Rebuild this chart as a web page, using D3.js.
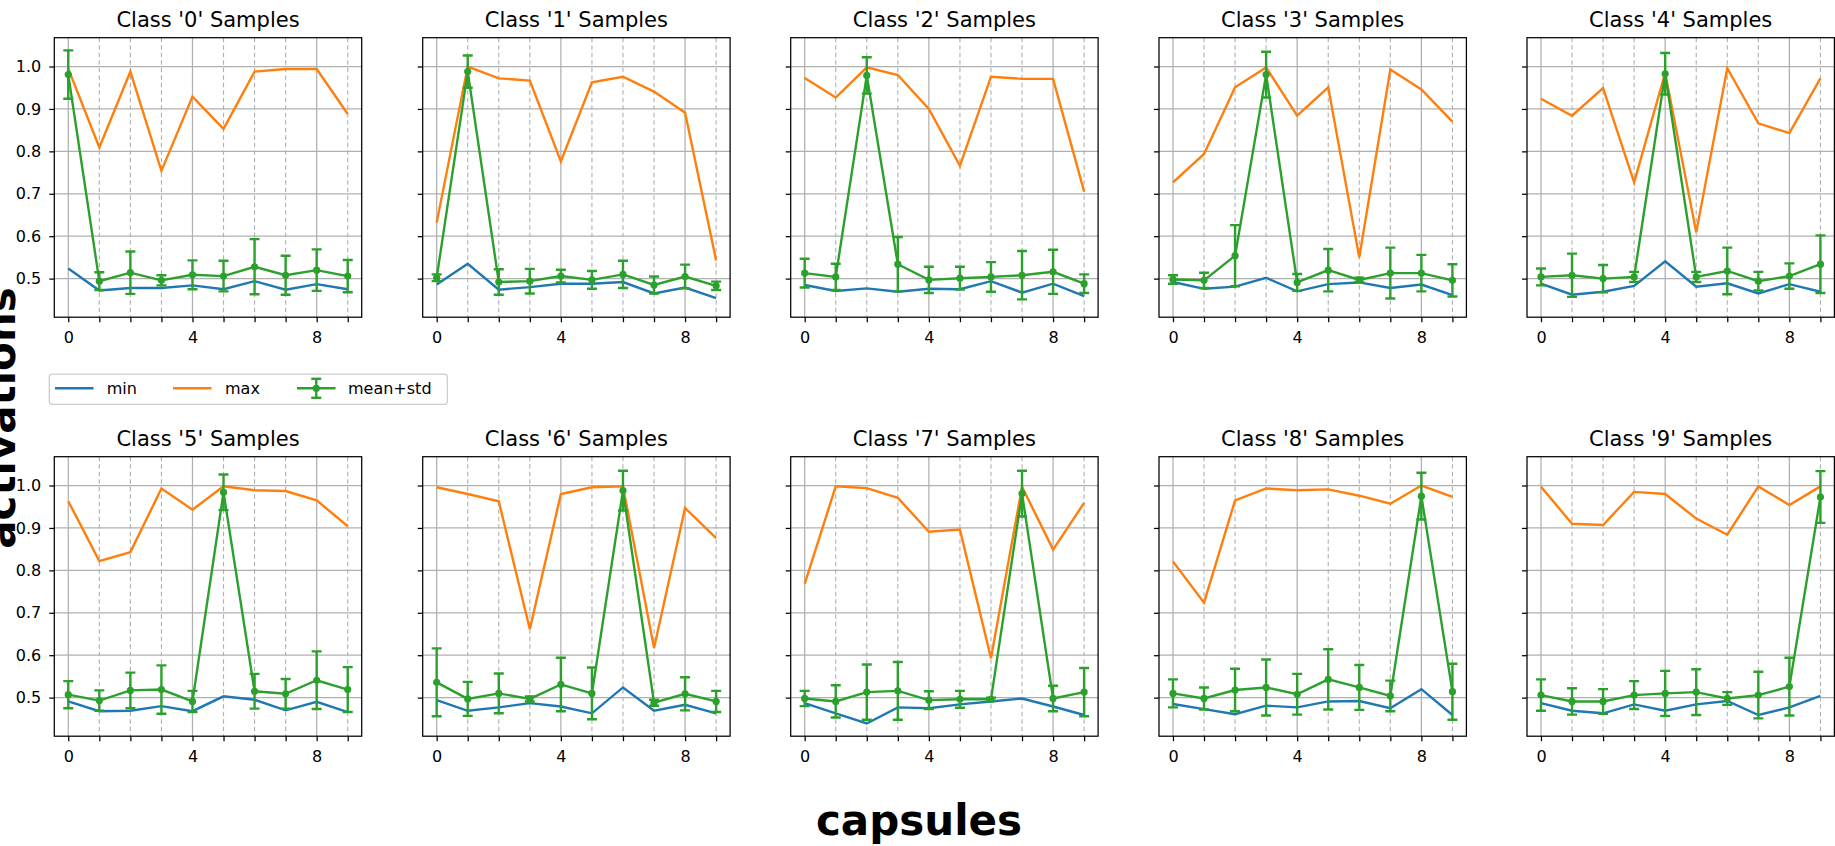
<!DOCTYPE html>
<html>
<head>
<meta charset="utf-8">
<script src="https://cdn.jsdelivr.net/npm/d3@7"></script>
<style>
  html, body { margin: 0; padding: 0; background: #ffffff; }
  svg { display: block; font-family: "DejaVu Sans", sans-serif; }
</style>
</head>
<body>
<svg id="chart" width="1835" height="846"></svg>
<script>
// ---------------- DATA ----------------
const classLabels = ["0", "1", "2", "3", "4", "5", "6", "7", "8", "9"];
const capsules = [0, 1, 2, 3, 4, 5, 6, 7, 8, 9];
const xTickLabels = [0, 4, 8];
const yTickValues = [0.5, 0.6, 0.7, 0.8, 0.9, 1.0];
const seriesNames = ["min", "max", "mean+std"];

const minValues = [
  [0.524, 0.472, 0.478, 0.478, 0.484, 0.475, 0.494, 0.474, 0.487, 0.475],
  [0.486, 0.535, 0.474, 0.480, 0.488, 0.488, 0.492, 0.465, 0.479, 0.454],
  [0.485, 0.471, 0.477, 0.469, 0.476, 0.475, 0.494, 0.467, 0.488, 0.459],
  [0.492, 0.476, 0.481, 0.502, 0.470, 0.487, 0.491, 0.478, 0.486, 0.461],
  [0.488, 0.462, 0.469, 0.483, 0.541, 0.481, 0.489, 0.465, 0.487, 0.469],
  [0.491, 0.468, 0.469, 0.480, 0.468, 0.503, 0.495, 0.470, 0.490, 0.466],
  [0.494, 0.469, 0.477, 0.487, 0.479, 0.463, 0.524, 0.469, 0.483, 0.463],
  [0.487, 0.463, 0.439, 0.477, 0.475, 0.484, 0.491, 0.498, 0.479, 0.459],
  [0.485, 0.473, 0.461, 0.481, 0.477, 0.491, 0.492, 0.475, 0.520, 0.459],
  [0.487, 0.469, 0.463, 0.484, 0.469, 0.484, 0.492, 0.459, 0.477, 0.504]
];

const maxValues = [
  [0.995, 0.809, 0.988, 0.754, 0.929, 0.853, 0.988, 0.994, 0.994, 0.888],
  [0.632, 1.000, 0.972, 0.967, 0.776, 0.963, 0.976, 0.941, 0.891, 0.543],
  [0.973, 0.927, 0.998, 0.980, 0.900, 0.766, 0.976, 0.971, 0.971, 0.705],
  [0.727, 0.794, 0.951, 0.998, 0.884, 0.951, 0.550, 0.993, 0.946, 0.870],
  [0.924, 0.884, 0.949, 0.727, 0.985, 0.609, 0.996, 0.866, 0.843, 0.972],
  [0.963, 0.822, 0.843, 0.993, 0.943, 0.998, 0.989, 0.987, 0.965, 0.904],
  [0.996, 0.980, 0.963, 0.661, 0.980, 0.996, 0.998, 0.617, 0.947, 0.876],
  [0.768, 0.998, 0.994, 0.971, 0.891, 0.896, 0.593, 0.997, 0.849, 0.959],
  [0.821, 0.724, 0.965, 0.993, 0.989, 0.991, 0.976, 0.957, 1.000, 0.973],
  [0.997, 0.910, 0.907, 0.985, 0.980, 0.922, 0.884, 0.998, 0.954, 0.998]
];

const meanValues = [
  [0.981, 0.494, 0.514, 0.496, 0.509, 0.506, 0.528, 0.508, 0.520, 0.506],
  [0.502, 0.988, 0.492, 0.494, 0.506, 0.497, 0.510, 0.485, 0.505, 0.483],
  [0.513, 0.504, 0.979, 0.534, 0.497, 0.501, 0.504, 0.508, 0.516, 0.488],
  [0.498, 0.496, 0.554, 0.981, 0.491, 0.520, 0.497, 0.513, 0.513, 0.496],
  [0.504, 0.508, 0.500, 0.504, 0.983, 0.504, 0.518, 0.494, 0.506, 0.534],
  [0.507, 0.493, 0.517, 0.519, 0.491, 0.984, 0.515, 0.509, 0.541, 0.519],
  [0.536, 0.497, 0.510, 0.497, 0.531, 0.510, 0.988, 0.488, 0.509, 0.491],
  [0.498, 0.491, 0.513, 0.516, 0.494, 0.496, 0.496, 0.981, 0.498, 0.513],
  [0.510, 0.498, 0.518, 0.524, 0.508, 0.543, 0.524, 0.504, 0.975, 0.514],
  [0.506, 0.491, 0.491, 0.506, 0.510, 0.513, 0.498, 0.506, 0.526, 0.973]
];

const stdValues = [
  [0.057, 0.021, 0.050, 0.012, 0.034, 0.036, 0.065, 0.046, 0.049, 0.038],
  [0.008, 0.038, 0.030, 0.029, 0.015, 0.021, 0.032, 0.020, 0.028, 0.010],
  [0.034, 0.031, 0.043, 0.064, 0.031, 0.027, 0.035, 0.057, 0.052, 0.022],
  [0.010, 0.018, 0.072, 0.054, 0.020, 0.050, 0.005, 0.060, 0.043, 0.038],
  [0.020, 0.051, 0.032, 0.012, 0.049, 0.012, 0.055, 0.022, 0.030, 0.068],
  [0.032, 0.024, 0.042, 0.057, 0.025, 0.042, 0.041, 0.035, 0.068, 0.053],
  [0.080, 0.040, 0.047, 0.006, 0.063, 0.061, 0.047, 0.007, 0.039, 0.025],
  [0.018, 0.038, 0.065, 0.068, 0.021, 0.020, 0.004, 0.054, 0.030, 0.057],
  [0.033, 0.026, 0.050, 0.066, 0.048, 0.071, 0.053, 0.036, 0.055, 0.066],
  [0.037, 0.031, 0.029, 0.033, 0.053, 0.054, 0.015, 0.055, 0.068, 0.061]
];

const seriesColors = ["#1f77b4", "#ff7f0e", "#2ca02c"];

// ---------------- LAYOUT ----------------
const svg = d3.select("#chart");
const panelLefts = [54.3, 422.7, 790.7, 1159, 1527];
const rowTops = [37.7, 456.7];
const panelW = 307.4;
const panelH = 279.5;

const x = d3.scaleLinear().domain([-0.45, 9.45]).range([0, panelW]);

let lo = Infinity, hi = -Infinity;
classLabels.forEach((c, k) => {
  capsules.forEach((j) => {
    lo = Math.min(lo, minValues[k][j], meanValues[k][j] - stdValues[k][j], maxValues[k][j]);
    hi = Math.max(hi, maxValues[k][j], meanValues[k][j] + stdValues[k][j]);
  });
});
const pad = (hi - lo) * 0.05;
const y = d3.scaleLinear().domain([lo - pad, hi + pad]).range([panelH, 0]);

const gridColor = "#b0b0b0";

classLabels.forEach((c, k) => {
  const col = k % 5, row = Math.floor(k / 5);
  const g = svg.append("g").attr("transform", `translate(${panelLefts[col]},${rowTops[row]})`);

  const clipId = "clip" + k;
  g.append("clipPath").attr("id", clipId).append("rect")
    .attr("x", 0).attr("y", 0).attr("width", panelW).attr("height", panelH);

  // grid - horizontal
  g.append("g").selectAll("line").data(yTickValues).join("line")
    .attr("x1", 0).attr("x2", panelW)
    .attr("y1", d => y(d)).attr("y2", d => y(d))
    .attr("stroke", gridColor).attr("stroke-width", 1.25);
  // grid - vertical major/minor
  g.append("g").selectAll("line").data(capsules).join("line")
    .attr("x1", d => x(d)).attr("x2", d => x(d))
    .attr("y1", 0).attr("y2", panelH)
    .attr("stroke", gridColor)
    .attr("stroke-width", d => xTickLabels.includes(d) ? 1.25 : 1.1)
    .attr("stroke-dasharray", d => xTickLabels.includes(d) ? null : "4.5,3");

  const plot = g.append("g").attr("clip-path", `url(#${clipId})`);

  const line = d3.line().x((d, i) => x(capsules[i])).y(d => y(d));

  plot.append("path").datum(minValues[k]).attr("d", line)
    .attr("fill", "none").attr("stroke", seriesColors[0]).attr("stroke-width", 2.4);
  plot.append("path").datum(maxValues[k]).attr("d", line)
    .attr("fill", "none").attr("stroke", seriesColors[1]).attr("stroke-width", 2.4);

  plot.append("path").datum(meanValues[k]).attr("d", line)
    .attr("fill", "none").attr("stroke", seriesColors[2]).attr("stroke-width", 2.4);

  const eb = plot.append("g").selectAll("g").data(capsules).join("g");
  eb.append("line")
    .attr("x1", d => x(d)).attr("x2", d => x(d))
    .attr("y1", d => y(meanValues[k][d] - stdValues[k][d]))
    .attr("y2", d => y(meanValues[k][d] + stdValues[k][d]))
    .attr("stroke", seriesColors[2]).attr("stroke-width", 2.4);
  [-1, 1].forEach(s => {
    eb.append("line")
      .attr("x1", d => x(d) - 5).attr("x2", d => x(d) + 5)
      .attr("y1", d => y(meanValues[k][d] + s * stdValues[k][d]))
      .attr("y2", d => y(meanValues[k][d] + s * stdValues[k][d]))
      .attr("stroke", seriesColors[2]).attr("stroke-width", 2.4);
  });
  eb.append("circle")
    .attr("cx", d => x(d)).attr("cy", d => y(meanValues[k][d]))
    .attr("r", 3.6).attr("fill", seriesColors[2]);

  // frame
  g.append("rect").attr("x", 0).attr("y", 0).attr("width", panelW).attr("height", panelH)
    .attr("fill", "none").attr("stroke", "#000").attr("stroke-width", 1.25);

  // x axis
  const xAxis = d3.axisBottom(x).tickValues(capsules).tickSize(5).tickPadding(9)
    .tickFormat(d => xTickLabels.includes(d) ? String(d) : "");
  const xg = g.append("g").attr("transform", `translate(0,${panelH})`).call(xAxis);
  xg.select(".domain").remove();
  xg.selectAll("line").attr("stroke", "#000").attr("stroke-width", 1.25);
  xg.selectAll("text").attr("font-size", 16).attr("fill", "#000")
    .attr("font-family", "DejaVu Sans");

  // y axis
  const yAxis = d3.axisLeft(y).tickValues(yTickValues).tickSize(5).tickPadding(8)
    .tickFormat(col === 0 ? d3.format(".1f") : () => "");
  const yg = g.append("g").call(yAxis);
  yg.select(".domain").remove();
  yg.selectAll("line").attr("stroke", "#000").attr("stroke-width", 1.25);
  yg.selectAll("text").attr("font-size", 16).attr("fill", "#000")
    .attr("font-family", "DejaVu Sans");

  // title
  g.append("text").attr("x", panelW / 2).attr("y", -10.3)
    .attr("text-anchor", "middle").attr("font-size", 21).attr("fill", "#000")
    .text(`Class '${c}' Samples`);
});

// ---------------- LEGEND ----------------
const leg = svg.append("g").attr("transform", "translate(49.3,374)");
leg.append("rect").attr("x", 0).attr("y", 0).attr("width", 398).attr("height", 30.3)
  .attr("rx", 3).attr("ry", 3)
  .attr("fill", "#fff").attr("fill-opacity", 0.8)
  .attr("stroke", "#cccccc").attr("stroke-width", 1.25);
const legX = [5.7, 123.7, 247.7];
const textX = [57.4, 175.7, 298.7];
const legMid = 14.3;
seriesNames.forEach((name, i) => {
  leg.append("line").attr("x1", legX[i]).attr("x2", legX[i] + 38.5)
    .attr("y1", legMid).attr("y2", legMid)
    .attr("stroke", seriesColors[i]).attr("stroke-width", 2.4);
  if (i === 2) {
    const cx = legX[i] + 19.25;
    leg.append("line").attr("x1", cx).attr("x2", cx).attr("y1", legMid - 9.5).attr("y2", legMid + 9.5)
      .attr("stroke", seriesColors[i]).attr("stroke-width", 2.4);
    [-9.5, 9.5].forEach(o => leg.append("line").attr("x1", cx - 5).attr("x2", cx + 5)
      .attr("y1", legMid + o).attr("y2", legMid + o)
      .attr("stroke", seriesColors[i]).attr("stroke-width", 2.4));
    leg.append("circle").attr("cx", cx).attr("cy", legMid).attr("r", 3.6).attr("fill", seriesColors[i]);
  }
  leg.append("text").attr("x", textX[i]).attr("y", legMid).attr("dy", "0.35em")
    .attr("font-size", 16).attr("fill", "#000").text(name);
});

// ---------------- AXIS LABELS ----------------
svg.append("text").attr("x", 919).attr("y", 835)
  .attr("text-anchor", "middle").attr("font-size", 42).attr("font-weight", "bold")
  .attr("fill", "#000").text("capsules");

// In the reference this label sits partly beyond the left edge of the figure
svg.append("text").attr("transform", "translate(15,418) rotate(-90)")
  .attr("text-anchor", "middle").attr("font-size", 42).attr("font-weight", "bold")
  .attr("fill", "#000").text("activations");
</script>
</body>
</html>
